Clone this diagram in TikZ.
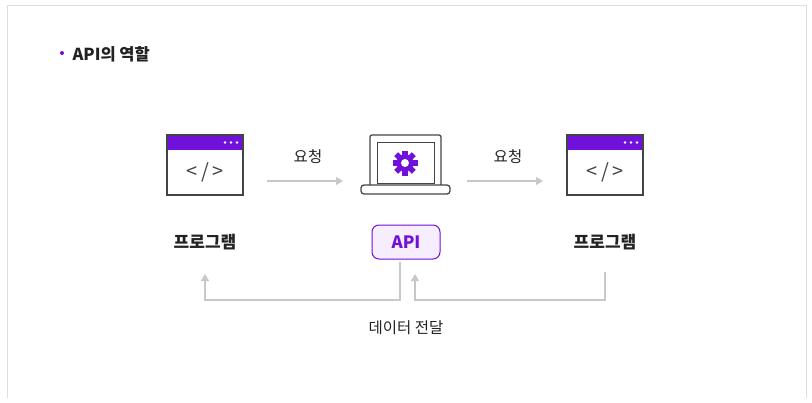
\documentclass[tikz,border=0pt]{standalone}
\usepackage{fontspec}
\setmainfont{Noto Sans CJK KR}
\usetikzlibrary{arrows.meta}
\definecolor{pur}{HTML}{7010D8}
\definecolor{lpur}{HTML}{F6EEFF}
\definecolor{ico}{HTML}{444444}
\definecolor{ln}{HTML}{C8C8C8}
\definecolor{txt}{HTML}{222222}
\begin{document}
\begin{tikzpicture}[x=1pt,y=-1pt,
  conn/.style={draw=ln,line width=1.2pt,-{Triangle[length=7pt,width=8pt]}},
  lbl/.style={font=\fontsize{15.5}{18}\selectfont,text=txt},
  blbl/.style={font=\bfseries\fontsize{17}{20}\selectfont,text=txt}]
\useasboundingbox (0,0) rectangle (812,402);
\draw[ln!60,line width=1pt] (7,398) -- (7,5) -- (806,5) -- (806,398);
\fill[pur] (62,53) circle (2);
\node[anchor=west,font=\bfseries\fontsize{16.5}{19}\selectfont,text=txt] (title) at (69,54) {API의 역할};
% windows
\foreach \x/\n in {167/w1,567/w2}{
  \fill[pur] (\x,135) rectangle (\x+76,150);
  \draw[ico,line width=1.3pt] (\x,135) rectangle (\x+76,195);
  \foreach \d in {0,6,12} \fill[white] (\x+58+\d,142.5) circle (1.3);
  \node[font=\fontsize{20}{22}\selectfont,text=ico] at (\x+38,172) {\textless\,/\,\textgreater};
  \coordinate (\n) at (\x+38,165);
}
% laptop
\draw[ico,line width=1.3pt,rounded corners=2pt] (370,185) -- (370,135) -- (441,135) -- (441,185);
\draw[ico,line width=0.8pt] (377,183) rectangle (434,142);
\draw[ico,line width=1.3pt,rounded corners=3pt] (361,185) -- (450,185) -- (450,194) -- (361,194) -- cycle;
\coordinate (lap) at (405,165);
\fill[pur] (405,163) circle (8.5);
\foreach \a in {0,45,...,315} \fill[pur,rotate around={\a:(405,163)}] (402.2,150.5) rectangle (407.8,156);
\fill[white] (405,163) circle (4);
\node[draw=pur,line width=1pt,fill=lpur,rounded corners=7pt,minimum width=68pt,minimum height=34pt,text=pur,font=\bfseries\fontsize{17}{20}\selectfont] (api) at (406,242) {API};
\node[blbl] (p1) at (205,242) {프로그램};
\node[blbl] (p2) at (605,242) {프로그램};
\coordinate (a1s) at (267,181); \coordinate (a1e) at (343,181);
\coordinate (a2s) at (467,181); \coordinate (a2e) at (543,181);
\draw[conn] (a1s) -- (a1e);
\draw[conn] (a2s) -- (a2e);
\node[lbl] (r1) at (308,157) {요청};
\node[lbl] (r2) at (508,157) {요청};
\coordinate (f1) at (400,262); \coordinate (f1e) at (205,274);
\coordinate (f2) at (605,272); \coordinate (f2e) at (415,274);
\draw[conn] (f1) |- (300,300) -| (f1e);
\draw[conn] (f2) |- (500,300) -| (f2e);
\node[lbl] (d) at (406,328) {데이터 전달};
\end{tikzpicture}
\end{document}
